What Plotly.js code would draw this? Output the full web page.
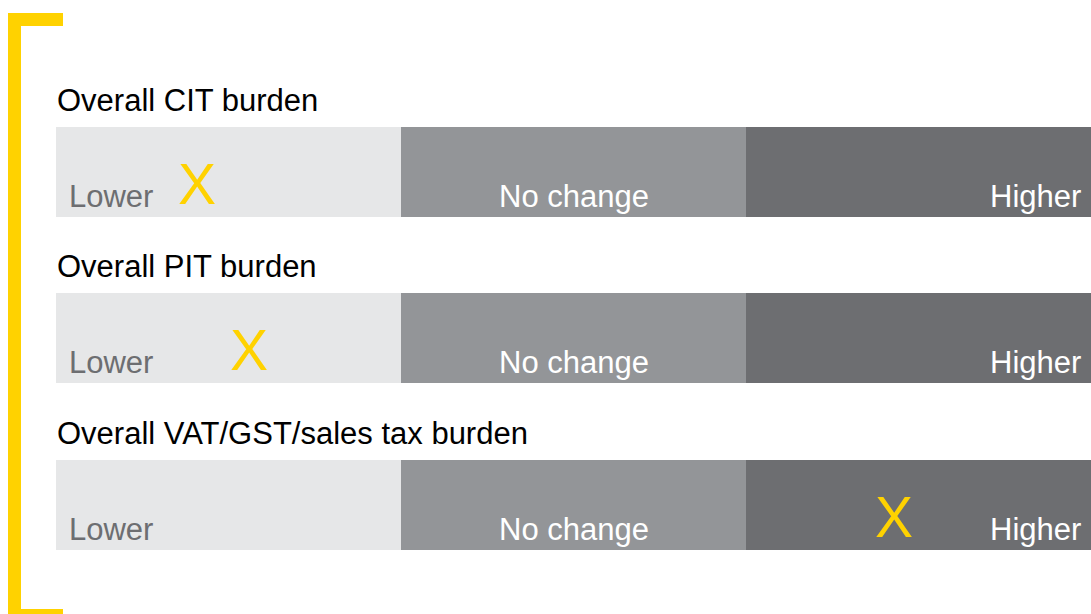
<!DOCTYPE html>
<html>
<head>
<meta charset="utf-8">
<script src="https://cdn.plot.ly/plotly-3.0.1.min.js"></script>
<style>html,body{margin:0;padding:0;background:#fff;}#chart{width:1091px;height:614px;}</style>
</head>
<body>
<div id="chart"></div>
<script>
// ---- data ----
const categories = ["Overall CIT burden", "Overall PIT burden", "Overall VAT/GST/sales tax burden"];
const segmentNames = ["Lower", "No change", "Higher"];
const segmentSpan = [1, 1, 1];            // each band covers one unit of the 0–3 scale
const markerPositions = [0.41, 0.56, 2.43]; // position of the "X" on the 0–3 scale

// ---- styles ----
const W = 1091, H = 614;
const segColors = ["#e6e7e8", "#939598", "#6d6e71"];
const labelColors = ["#6d6e71", "#ffffff", "#ffffff"];
const yellow = "#ffd200";
const FONT = "Liberation Sans, Arial, sans-serif";

const traces = segmentNames.map((name, k) => ({
  type: "bar",
  orientation: "h",
  name: name,
  y: categories,
  x: categories.map(() => segmentSpan[k]),
  width: 0.541,
  marker: { color: segColors[k], line: { width: 0 } },
  hoverinfo: "skip",
  showlegend: false
}));

const annotations = [];
categories.forEach((cat, i) => {
  annotations.push({
    x: 0, y: cat, xref: "x", yref: "y", text: cat, showarrow: false,
    xanchor: "left", yanchor: "bottom", xshift: -1, yshift: 52,
    font: { family: FONT, size: 31, color: "#000000" }
  });
  // segment labels
  let start = 0;
  segmentNames.forEach((name, k) => {
    const end = start + segmentSpan[k];
    let ann = { y: cat, xref: "x", yref: "y", text: name, showarrow: false,
      yanchor: "bottom", yshift: -44, font: { family: FONT, size: 31, color: labelColors[k] } };
    if (k === 0) { ann.x = start; ann.xanchor = "left"; ann.xshift = 11; }
    else if (k === segmentNames.length - 1) { ann.x = end; ann.xanchor = "right"; ann.xshift = -8; }
    else { ann.x = (start + end) / 2; ann.xanchor = "center"; }
    annotations.push(ann);
    start = end;
  });
  annotations.push({
    x: markerPositions[i], y: cat, xref: "x", yref: "y", text: "X", showarrow: false,
    xanchor: "center", yanchor: "middle", yshift: -12,
    font: { family: FONT, size: 57, color: yellow }
  });
});

// bracket (pixel geometry -> paper coords)
const L = 56, PW = W - L;
const px = v => (v - L) / PW;
const py = v => 1 - v / H;
const shapes = [
  { type: "rect", xref: "paper", yref: "paper", x0: px(8), x1: px(21), y0: py(622), y1: py(13), fillcolor: yellow, line: { width: 0 }, layer: "above" },
  { type: "rect", xref: "paper", yref: "paper", x0: px(8), x1: px(63), y0: py(26), y1: py(13), fillcolor: yellow, line: { width: 0 }, layer: "above" },
  { type: "rect", xref: "paper", yref: "paper", x0: px(8), x1: px(63), y0: py(622), y1: py(609), fillcolor: yellow, line: { width: 0 }, layer: "above" }
];

const layout = {
  width: W, height: H,
  margin: { l: L, r: 0, t: 0, b: 0, pad: 0 },
  paper_bgcolor: "#ffffff", plot_bgcolor: "#ffffff",
  barmode: "stack", bargap: 0,
  xaxis: { range: [0, 3], visible: false, fixedrange: true },
  yaxis: { type: "category", range: [2.658, -1.032], visible: false, fixedrange: true },
  annotations: annotations,
  shapes: shapes,
  showlegend: false
};

Plotly.newPlot("chart", traces, layout, { displayModeBar: false, staticPlot: true });
</script>
</body>
</html>
